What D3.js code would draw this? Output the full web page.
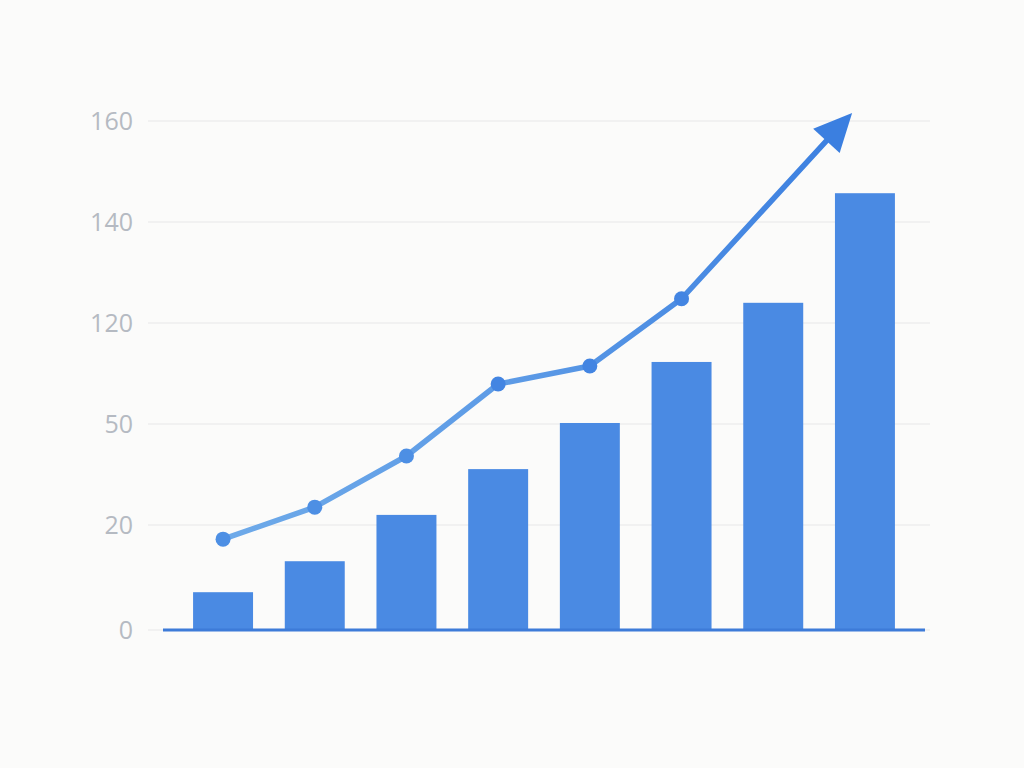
<!DOCTYPE html>
<html>
<head>
<meta charset="UTF-8">
<title>Growth chart</title>
<script src="https://d3js.org/d3.v7.min.js"></script>
<style>
  body { margin: 0; background: #fbfbfa; }
  svg { display: block; }
  .tick-label { font-family: "Open Sans", "Noto Sans", sans-serif; font-size: 25px; fill: #b5bac2; }
</style>
</head>
<body>
<svg id="chart" width="1024" height="768"></svg>
<script>
// data
var categories = ["P1", "P2", "P3", "P4", "P5", "P6", "P7", "P8"];
var barValues = [7.2, 13.1, 23, 36.6, 50.7, 93, 124, 145.7];
var lineValues = [17.3, 25.3, 40.5, 77.7, 90.2, 124.8];
var arrowTip = { index: 6.86, value: 161.6 };
// the y axis in the picture is not even: these labels sit on equally spaced lines
var tickValues = [0, 20, 50, 120, 140, 160];

var svg = d3.select("#chart");

var x = d3.scaleBand()
  .domain(categories)
  .range([163, 925])
  .paddingInner(0.346)
  .paddingOuter(0.328);

// piecewise linear scale, one piece per grid gap
var y = d3.scaleLinear()
  .domain(tickValues)
  .range([630, 525, 424, 323, 222, 121]);

var xi = d3.scaleLinear()
  .domain([0, categories.length - 1])
  .range([x(categories[0]) + x.bandwidth() / 2, x(categories[categories.length - 1]) + x.bandwidth() / 2]);

// grid
svg.append("g")
  .selectAll("line")
  .data(tickValues)
  .enter().append("line")
  .attr("x1", 148).attr("x2", 930)
  .attr("y1", function(d) { return y(d); })
  .attr("y2", function(d) { return y(d); })
  .style("stroke", "#eeeeee")
  .style("stroke-width", 1.5);

svg.append("g")
  .selectAll("text")
  .data(tickValues)
  .enter().append("text")
  .attr("class", "tick-label")
  .attr("x", 133)
  .attr("y", function(d) { return y(d); })
  .attr("dy", "0.36em")
  .attr("text-anchor", "end")
  .text(function(d) { return d; });

// bars
svg.append("g")
  .selectAll("rect")
  .data(barValues)
  .enter().append("rect")
  .attr("x", function(d, i) { return x(categories[i]); })
  .attr("width", x.bandwidth())
  .attr("y", function(d) { return y(d); })
  .attr("height", function(d) { return y(0) - y(d); })
  .style("fill", "#4a8ae3");

// baseline
svg.append("line")
  .attr("x1", 163).attr("x2", 925)
  .attr("y1", y(0)).attr("y2", y(0))
  .style("stroke", "#3d7bd8")
  .style("stroke-width", 3);

// trend line with gradient
var defs = svg.append("defs");
var grad = defs.append("linearGradient")
  .attr("id", "lineGrad")
  .attr("gradientUnits", "userSpaceOnUse")
  .attr("x1", xi(0)).attr("x2", xi(arrowTip.index))
  .attr("y1", 0).attr("y2", 0);
grad.append("stop").attr("offset", "0%").attr("stop-color", "#6eaae9");
grad.append("stop").attr("offset", "45%").attr("stop-color", "#5d9be6");
grad.append("stop").attr("offset", "100%").attr("stop-color", "#3b7fe0");

var pts = lineValues.map(function(v, i) { return [xi(i), y(v)]; });
var tip = [xi(arrowTip.index), y(arrowTip.value)];
var last = pts[pts.length - 1];
var dx = tip[0] - last[0], dy = tip[1] - last[1];
var len = Math.sqrt(dx * dx + dy * dy);
var ux = dx / len, uy = dy / len;
var headLen = 38, headHalf = 18;
var base = [tip[0] - ux * headLen, tip[1] - uy * headLen];

svg.append("path")
  .datum(pts.concat([[base[0] + ux * 4, base[1] + uy * 4]]))
  .attr("d", d3.line())
  .style("fill", "none")
  .style("stroke", "url(#lineGrad)")
  .style("stroke-width", 5.5)
  .style("stroke-linejoin", "round")
  .style("stroke-linecap", "round");

svg.append("path")
  .attr("d", d3.line()([
    tip,
    [base[0] - uy * headHalf, base[1] + ux * headHalf],
    [base[0] + uy * headHalf, base[1] - ux * headHalf]
  ]) + "Z")
  .style("fill", "#3b7fe0");

svg.append("g")
  .selectAll("circle")
  .data(pts)
  .enter().append("circle")
  .attr("cx", function(d) { return d[0]; })
  .attr("cy", function(d) { return d[1]; })
  .attr("r", 7.5)
  .style("fill", function(d, i) { return i < 3 ? "#4d8fe4" : "#4385e2"; });
</script>
</body>
</html>
